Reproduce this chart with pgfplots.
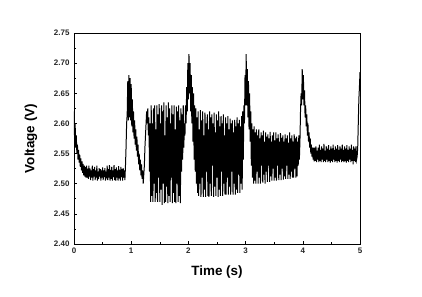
\documentclass[border=0pt]{standalone}
\usepackage{pgfplots}
\pgfplotsset{compat=1.18}
\usepackage{fontspec}
\setmainfont{Liberation Sans}
\begin{document}
\begin{tikzpicture}
\useasboundingbox (-74bp,-53bp) rectangle (348bp,244bp);
\begin{axis}[
  at={(0,0)}, anchor=south west,
  scale only axis, width=286bp, height=211bp,
  xmin=0, xmax=5, ymin=2.40, ymax=2.75,
  xtick={0,1,2,3,4,5}, ytick={2.40,2.45,...,2.76},
  minor x tick num=1, minor y tick num=1,
  tick pos=left, tick align=inside,
  major tick length=3.5pt, minor tick length=2.5pt,
  axis line style={line width=0.8pt},
  every tick/.style={black, line width=0.6pt},
  /pgf/number format/assume math mode=true,
  yticklabel style={/pgf/number format/fixed, /pgf/number format/fixed zerofill, /pgf/number format/precision=2, font=\fontsize{8}{9}\selectfont\bfseries, text=black!85, xshift=-1pt},
  xticklabel style={font=\fontsize{8}{9}\selectfont\bfseries, text=black!85},
  xlabel={\textbf{Time (s)}}, ylabel={\textbf{Voltage (V)}},
  xlabel style={font=\fontsize{13.5}{15}\selectfont, yshift=-6pt},
  ylabel style={font=\fontsize{13.5}{15}\selectfont, yshift=10pt},
]
\addplot[black, line width=1.0pt] table {
x y
0.00 2.620
0.01 2.575
0.02 2.600
0.03 2.560
0.04 2.580
0.05 2.550
0.06 2.565
0.07 2.540
0.08 2.556
0.09 2.535
0.10 2.548
0.11 2.528
0.12 2.542
0.13 2.522
0.14 2.537
0.15 2.518
0.16 2.533
0.17 2.514
0.18 2.530
0.19 2.512
0.20 2.528
0.21 2.510
0.22 2.530
0.23 2.510
0.24 2.525
0.25 2.508
0.26 2.530
0.27 2.512
0.28 2.525
0.29 2.506
0.30 2.522
0.31 2.510
0.32 2.530
0.33 2.505
0.34 2.524
0.35 2.512
0.36 2.528
0.37 2.506
0.38 2.522
0.39 2.510
0.40 2.530
0.41 2.505
0.42 2.520
0.43 2.508
0.44 2.526
0.45 2.512
0.46 2.524
0.47 2.505
0.48 2.522
0.49 2.510
0.50 2.527
0.51 2.506
0.52 2.522
0.53 2.511
0.54 2.526
0.55 2.505
0.56 2.520
0.57 2.509
0.58 2.530
0.59 2.506
0.60 2.524
0.61 2.510
0.62 2.531
0.63 2.505
0.64 2.523
0.65 2.508
0.66 2.528
0.67 2.505
0.68 2.522
0.69 2.511
0.70 2.531
0.71 2.506
0.72 2.524
0.73 2.505
0.74 2.527
0.75 2.510
0.76 2.522
0.77 2.505
0.78 2.529
0.79 2.509
0.80 2.523
0.81 2.505
0.82 2.528
0.83 2.511
0.84 2.524
0.85 2.505
0.86 2.526
0.87 2.510
0.88 2.522
0.89 2.506
0.90 2.530
0.91 2.560
0.92 2.600
0.93 2.615
0.94 2.670
0.95 2.605
0.96 2.680
0.97 2.610
0.98 2.675
0.99 2.605
1.00 2.665
1.01 2.595
1.02 2.640
1.03 2.585
1.04 2.620
1.05 2.575
1.06 2.605
1.07 2.565
1.08 2.590
1.09 2.555
1.10 2.578
1.11 2.545
1.12 2.565
1.13 2.532
1.14 2.550
1.15 2.522
1.16 2.540
1.17 2.514
1.18 2.532
1.19 2.508
1.20 2.522
1.21 2.500
1.22 2.515
1.23 2.530
1.24 2.560
1.25 2.580
1.26 2.600
1.27 2.620
1.28 2.600
1.29 2.625
1.30 2.580
1.31 2.610
1.32 2.520
1.33 2.600
1.34 2.470
1.35 2.630
1.36 2.480
1.37 2.600
1.38 2.470
1.39 2.625
1.40 2.500
1.41 2.630
1.42 2.470
1.43 2.590
1.44 2.485
1.45 2.630
1.46 2.470
1.47 2.615
1.48 2.510
1.49 2.632
1.50 2.470
1.51 2.600
1.52 2.490
1.53 2.630
1.54 2.465
1.55 2.620
1.56 2.500
1.57 2.635
1.58 2.468
1.59 2.580
1.60 2.470
1.61 2.630
1.62 2.495
1.63 2.610
1.64 2.468
1.65 2.635
1.66 2.480
1.67 2.625
1.68 2.470
1.69 2.600
1.70 2.510
1.71 2.630
1.72 2.468
1.73 2.615
1.74 2.485
1.75 2.630
1.76 2.470
1.77 2.590
1.78 2.468
1.79 2.628
1.80 2.500
1.81 2.620
1.82 2.470
1.83 2.630
1.84 2.480
1.85 2.605
1.86 2.468
1.87 2.625
1.88 2.520
1.89 2.615
1.90 2.540
1.91 2.630
1.92 2.560
1.93 2.600
1.94 2.580
1.95 2.630
1.96 2.600
1.97 2.660
1.98 2.620
1.99 2.700
2.00 2.640
2.01 2.715
2.02 2.650
2.03 2.700
2.04 2.620
2.05 2.680
2.06 2.600
2.07 2.660
2.08 2.570
2.09 2.650
2.10 2.540
2.11 2.630
2.12 2.520
2.13 2.625
2.14 2.500
2.15 2.610
2.16 2.485
2.17 2.620
2.18 2.480
2.19 2.590
2.20 2.500
2.21 2.622
2.22 2.478
2.23 2.605
2.24 2.510
2.25 2.620
2.26 2.478
2.27 2.580
2.28 2.490
2.29 2.618
2.30 2.478
2.31 2.600
2.32 2.520
2.33 2.615
2.34 2.480
2.35 2.590
2.36 2.478
2.37 2.620
2.38 2.500
2.39 2.610
2.40 2.480
2.41 2.615
2.42 2.530
2.43 2.600
2.44 2.478
2.45 2.618
2.46 2.495
2.47 2.585
2.48 2.480
2.49 2.615
2.50 2.510
2.51 2.605
2.52 2.478
2.53 2.620
2.54 2.490
2.55 2.595
2.56 2.480
2.57 2.612
2.58 2.520
2.59 2.600
2.60 2.480
2.61 2.615
2.62 2.500
2.63 2.580
2.64 2.482
2.65 2.610
2.66 2.482
2.67 2.600
2.68 2.510
2.69 2.612
2.70 2.482
2.71 2.590
2.72 2.495
2.73 2.608
2.74 2.482
2.75 2.600
2.76 2.520
2.77 2.605
2.78 2.482
2.79 2.585
2.80 2.500
2.81 2.606
2.82 2.482
2.83 2.595
2.84 2.490
2.85 2.610
2.86 2.485
2.87 2.600
2.88 2.515
2.89 2.606
2.90 2.485
2.91 2.595
2.92 2.500
2.93 2.612
2.94 2.490
2.95 2.620
2.96 2.540
2.97 2.630
2.98 2.600
2.99 2.680
3.00 2.630
3.01 2.715
3.02 2.630
3.03 2.690
3.04 2.610
3.05 2.670
3.06 2.590
3.07 2.650
3.08 2.570
3.09 2.620
3.10 2.530
3.11 2.600
3.12 2.510
3.13 2.590
3.14 2.500
3.15 2.595
3.16 2.505
3.17 2.585
3.18 2.500
3.19 2.590
3.20 2.520
3.21 2.580
3.22 2.500
3.23 2.590
3.24 2.510
3.25 2.575
3.26 2.500
3.27 2.585
3.28 2.530
3.29 2.580
3.30 2.502
3.31 2.588
3.32 2.515
3.33 2.570
3.34 2.500
3.35 2.585
3.36 2.520
3.37 2.578
3.38 2.503
3.39 2.582
3.40 2.530
3.41 2.575
3.42 2.503
3.43 2.586
3.44 2.512
3.45 2.570
3.46 2.505
3.47 2.580
3.48 2.525
3.49 2.585
3.50 2.505
3.51 2.572
3.52 2.510
3.53 2.585
3.54 2.505
3.55 2.575
3.56 2.530
3.57 2.582
3.58 2.506
3.59 2.570
3.60 2.515
3.61 2.584
3.62 2.506
3.63 2.576
3.64 2.525
3.65 2.580
3.66 2.507
3.67 2.570
3.68 2.512
3.69 2.582
3.70 2.508
3.71 2.575
3.72 2.530
3.73 2.580
3.74 2.508
3.75 2.568
3.76 2.515
3.77 2.585
3.78 2.508
3.79 2.575
3.80 2.520
3.81 2.580
3.82 2.510
3.83 2.570
3.84 2.510
3.85 2.582
3.86 2.525
3.87 2.575
3.88 2.510
3.89 2.578
3.90 2.512
3.91 2.570
3.92 2.530
3.93 2.580
3.94 2.540
3.95 2.570
3.96 2.620
3.97 2.650
3.98 2.630
3.99 2.690
4.00 2.640
4.01 2.680
4.02 2.630
4.03 2.655
4.04 2.610
4.05 2.630
4.06 2.595
4.07 2.615
4.08 2.580
4.09 2.600
4.10 2.570
4.11 2.585
4.12 2.560
4.13 2.575
4.14 2.550
4.15 2.565
4.16 2.545
4.17 2.560
4.18 2.540
4.19 2.560
4.20 2.537
4.21 2.560
4.22 2.538
4.23 2.562
4.24 2.536
4.25 2.555
4.26 2.540
4.27 2.560
4.28 2.536
4.29 2.565
4.30 2.538
4.31 2.556
4.32 2.536
4.33 2.562
4.34 2.540
4.35 2.558
4.36 2.536
4.37 2.566
4.38 2.538
4.39 2.555
4.40 2.536
4.41 2.562
4.42 2.540
4.43 2.558
4.44 2.536
4.45 2.564
4.46 2.538
4.47 2.556
4.48 2.535
4.49 2.562
4.50 2.538
4.51 2.558
4.52 2.536
4.53 2.565
4.54 2.540
4.55 2.556
4.56 2.536
4.57 2.562
4.58 2.538
4.59 2.558
4.60 2.535
4.61 2.564
4.62 2.538
4.63 2.556
4.64 2.536
4.65 2.562
4.66 2.540
4.67 2.558
4.68 2.536
4.69 2.565
4.70 2.538
4.71 2.556
4.72 2.536
4.73 2.562
4.74 2.538
4.75 2.558
4.76 2.535
4.77 2.564
4.78 2.538
4.79 2.556
4.80 2.536
4.81 2.562
4.82 2.540
4.83 2.558
4.84 2.536
4.85 2.565
4.86 2.538
4.87 2.556
4.88 2.532
4.89 2.562
4.90 2.538
4.91 2.558
4.92 2.536
4.93 2.562
4.94 2.540
4.95 2.545
4.96 2.560
4.97 2.600
4.98 2.640
4.99 2.660
5.00 2.685
};
\end{axis}
\end{tikzpicture}
\end{document}
